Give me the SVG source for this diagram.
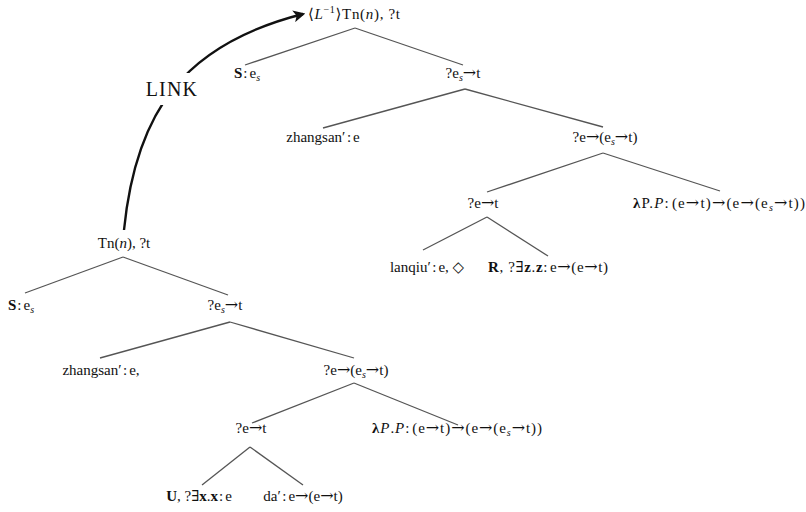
<svg xmlns="http://www.w3.org/2000/svg" width="806" height="512" viewBox="0 0 806 512">
  <defs>
    <style>
      text { font-family: "Liberation Serif", "DejaVu Serif", serif; font-size: 15px; fill: #111; text-anchor: middle; }
      .b { font-weight: bold; }
      .i { font-style: italic; }
      .s { font-size: 10px; font-style: italic; }
      .ar { font-family: "DejaVu Serif", serif; font-size: 16px; }
      .edge { stroke: #555; stroke-width: 1.3; fill: none; }
      .link { stroke: #111; stroke-width: 2.4; fill: none; }
      .label { font-size: 20px; letter-spacing: 1.2px; }
    </style>
    <marker id="arrow" viewBox="0 0 10 10" refX="8" refY="5" markerWidth="5" markerHeight="5" orient="auto" markerUnits="strokeWidth">
      <path d="M0,0 L10,5 L0,10 L2.5,5 Z" fill="#111"/>
    </marker>
  </defs>
  <rect width="806" height="512" fill="#fff"/>

  <!-- tree edges -->
  <g id="connectors">
    <line class="edge" x1="355" y1="28" x2="245" y2="65"/>
    <line class="edge" x1="355" y1="28" x2="463" y2="65"/>
    <line class="edge" x1="465" y1="89" x2="323" y2="128"/>
    <line class="edge" x1="465" y1="89" x2="603" y2="127"/>
    <line class="edge" x1="603" y1="153" x2="487" y2="192"/>
    <line class="edge" x1="603" y1="153" x2="720" y2="191"/>
    <line class="edge" x1="487" y1="217" x2="423" y2="250"/>
    <line class="edge" x1="487" y1="217" x2="548" y2="256"/>

    <line class="edge" x1="123" y1="257" x2="25" y2="293"/>
    <line class="edge" x1="123" y1="257" x2="228" y2="295"/>
    <line class="edge" x1="230" y1="322" x2="100" y2="358"/>
    <line class="edge" x1="230" y1="322" x2="354" y2="358"/>
    <line class="edge" x1="354" y1="383" x2="252" y2="423"/>
    <line class="edge" x1="354" y1="383" x2="458" y2="425"/>
    <line class="edge" x1="250" y1="447" x2="202" y2="485"/>
    <line class="edge" x1="250" y1="447" x2="303" y2="485"/>

    <!-- LINK relation between the two trees -->
    <g id="link">
      <path class="link" d="M124,230 C136,110 185,44 303,14" marker-end="url(#arrow)"/>
      <rect x="140" y="73" width="64" height="32" fill="#fff"/>
      <text class="label" x="172" y="96">LINK</text>
    </g>
  </g>

  <!-- upper (linked) tree -->
  <g id="t-root"><text x="354" y="19" textLength="92">⟨<tspan class="i">L</tspan><tspan dy="-6" font-size="10">−1</tspan><tspan dy="6">⟩Tn(</tspan><tspan class="i">n</tspan>), ?t</text></g>
  <g id="t-subj"><text x="247" y="78"><tspan class="b">S</tspan><tspan dx="1">:</tspan><tspan dx="2">e</tspan><tspan dy="3" class="s">s</tspan></text></g>
  <g id="t-pred"><text x="463" y="78">?e<tspan dy="3" class="s">s</tspan><tspan dy="-3" class="ar">→</tspan>t</text></g>
  <g id="t-zhangsan"><text x="323" y="142">zhangsan′<tspan dx="1.5">:</tspan><tspan dx="2">e</tspan></text></g>
  <g id="t-vp"><text x="605" y="142">?e<tspan class="ar">→</tspan>(e<tspan dy="3" class="s">s</tspan><tspan dy="-3" class="ar">→</tspan>t)</text></g>
  <g id="t-v"><text x="483" y="208">?e<tspan class="ar">→</tspan>t</text></g>
  <g id="t-aspect"><text x="719" y="208" textLength="172"><tspan class="b">λ</tspan>P.<tspan class="i">P</tspan>:<tspan dx="2">(e</tspan><tspan class="ar">→</tspan>t)<tspan class="ar">→</tspan>(e<tspan class="ar">→</tspan>(e<tspan dy="3" class="s">s</tspan><tspan dy="-3" class="ar">→</tspan>t))</text></g>
  <g id="t-lanqiu"><text x="427" y="272">lanqiu′<tspan dx="1.5">:</tspan><tspan dx="2">e, ◇</tspan></text></g>
  <g id="t-verb"><text x="548" y="272" textLength="120"><tspan class="b">R</tspan>, ?∃<tspan class="b">z</tspan>.<tspan class="b">z</tspan>:<tspan dx="2">e</tspan><tspan class="ar">→</tspan>(e<tspan class="ar">→</tspan>t)</text></g>

  <!-- lower (host) tree -->
  <g id="b-root"><text x="124" y="248">Tn(<tspan class="i">n</tspan>), ?t</text></g>
  <g id="b-subj"><text x="21" y="310"><tspan class="b">S</tspan><tspan dx="1">:</tspan><tspan dx="2">e</tspan><tspan dy="3" class="s">s</tspan></text></g>
  <g id="b-pred"><text x="225" y="310">?e<tspan dy="3" class="s">s</tspan><tspan dy="-3" class="ar">→</tspan>t</text></g>
  <g id="b-zhangsan"><text x="101" y="375">zhangsan′<tspan dx="1.5">:</tspan><tspan dx="2">e,</tspan></text></g>
  <g id="b-vp"><text x="356" y="375">?e<tspan class="ar">→</tspan>(e<tspan dy="3" class="s">s</tspan><tspan dy="-3" class="ar">→</tspan>t)</text></g>
  <g id="b-v"><text x="251" y="433">?e<tspan class="ar">→</tspan>t</text></g>
  <g id="b-aspect"><text x="457" y="433" textLength="170"><tspan class="b">λ</tspan><tspan class="i">P</tspan>.<tspan class="i">P</tspan>:<tspan dx="2">(e</tspan><tspan class="ar">→</tspan>t)<tspan class="ar">→</tspan>(e<tspan class="ar">→</tspan>(e<tspan dy="3" class="s">s</tspan><tspan dy="-3" class="ar">→</tspan>t))</text></g>
  <g id="b-obj"><text x="199" y="501"><tspan class="b">U</tspan>, ?∃<tspan class="b">x</tspan>.<tspan class="b">x</tspan><tspan dx="1">:</tspan><tspan dx="2">e</tspan></text></g>
  <g id="b-da"><text x="303" y="501">da′<tspan dx="1.5">:</tspan><tspan dx="2">e</tspan><tspan class="ar">→</tspan>(e<tspan class="ar">→</tspan>t)</text></g>
</svg>
